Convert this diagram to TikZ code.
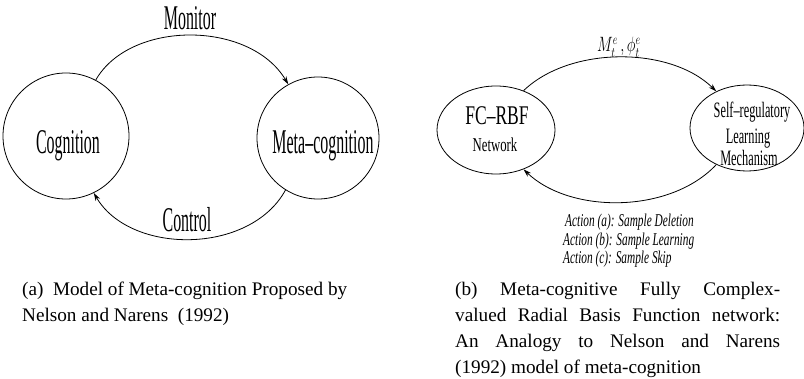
\documentclass[tikz,border=0pt]{standalone}
\usepackage{fontspec}
\usepackage{graphicx}
\setmainfont{Liberation Serif}
\newfontfamily\condbig[FakeStretch=0.46]{Liberation Serif}
\newfontfamily\condfc[FakeStretch=0.65]{Liberation Serif}
\newfontfamily\condsr[FakeStretch=0.56]{Liberation Serif}
\newfontfamily\condact[FakeStretch=0.63]{Liberation Serif}
\usetikzlibrary{arrows.meta,shapes.geometric}
\tikzset{
  circ/.style={draw, circle, minimum size=#1, inner sep=0pt, line width=0.8pt},
  ell/.style={draw, ellipse, minimum width=#1, inner sep=0pt, line width=0.8pt},
  conn/.style={-{Stealth[length=8pt,width=5pt]}, line width=0.8pt},
  lbl/.style={anchor=base, inner sep=0pt},
  bigtxt/.style={font={\condbig\fontsize{34.7pt}{40pt}\selectfont}},
  fctxt/.style={font={\condfc\fontsize{#1}{30pt}\selectfont}},
  srtxt/.style={font={\condsr\fontsize{22pt}{26pt}\selectfont}},
  acttxt/.style={anchor=base west, inner sep=0pt, font={\condact\itshape\fontsize{18pt}{20pt}\selectfont}},
  captxt/.style={anchor=base west, inner sep=0pt, font={\fontsize{19.2pt}{26pt}\selectfont}}
}
\begin{document}
\begin{tikzpicture}[x=1pt,y=-1pt]
\useasboundingbox (0,0) rectangle (804,379);

% (a) left diagram
\node[circ=126pt] (cog) at (66,136) {};
\node[circ=122pt] (meta) at (318,138) {};
\node[lbl, bigtxt] (tcog) at (68,154) {Cognition};
\node[lbl, bigtxt] (tmeta) at (323,154) {Meta–cognition};
\node[lbl, bigtxt] (tmon) at (190,30) {Monitor};
\node[lbl, bigtxt] (tctl) at (187,232) {Control};
\draw[conn] (cog.62) .. controls (130,20) and (250,20) .. (meta.119);
\draw[conn] (meta.238) .. controls (250,255) and (130,255) .. (cog.296);

% (b) right diagram
\node[ell=118pt, minimum height=88pt] (fc) at (496,130) {};
\node[ell=114pt, minimum height=86pt] (sr) at (747,128) {};
\node[lbl, fctxt=27pt] (tfc) at (497,125) {FC–RBF};
\node[lbl, fctxt=19.6pt] (tnet) at (495,152) {Network};
\node[lbl, srtxt] (tself) at (752,118) {Self–regulatory};
\node[lbl, srtxt] (tlearn) at (748,144) {Learning};
\node[lbl, srtxt] (tmech) at (749,166) {Mechanism};
\draw[conn] (fc.55) .. controls (570,46) and (670,46) .. (sr.130);
\draw[conn] (sr.230) .. controls (670,214) and (570,214) .. (fc.305);
\node[anchor=base west, inner sep=0pt] (mphi) at (597,52)
  {\fontsize{21pt}{24pt}\selectfont\scalebox{0.72}[1]{$M^{e}_{t}\,,\phi^{e}_{t}$}};
\node[acttxt] (acta) at (565,227) {Action (a): Sample Deletion};
\node[acttxt] (actb) at (563,246) {Action (b): Sample Learning};
\node[acttxt] (actc) at (563,264) {Action (c): Sample Skip};

% captions
\node[captxt] (capa) at (22,296) {\parbox[t]{325pt}{\fontsize{19.2pt}{26pt}\selectfont
  (a)~~Model of Meta-cognition Proposed by\linebreak Nelson and Narens~~(1992)}};
\node[captxt] (capb) at (455,296) {\parbox[t]{325pt}{\fontsize{19.2pt}{26pt}\selectfont
  (b) Meta-cognitive Fully Complex-\linebreak valued Radial Basis Function network:\linebreak
  An Analogy to Nelson and Narens\linebreak (1992) model of meta-cognition}};
\end{tikzpicture}
\end{document}
